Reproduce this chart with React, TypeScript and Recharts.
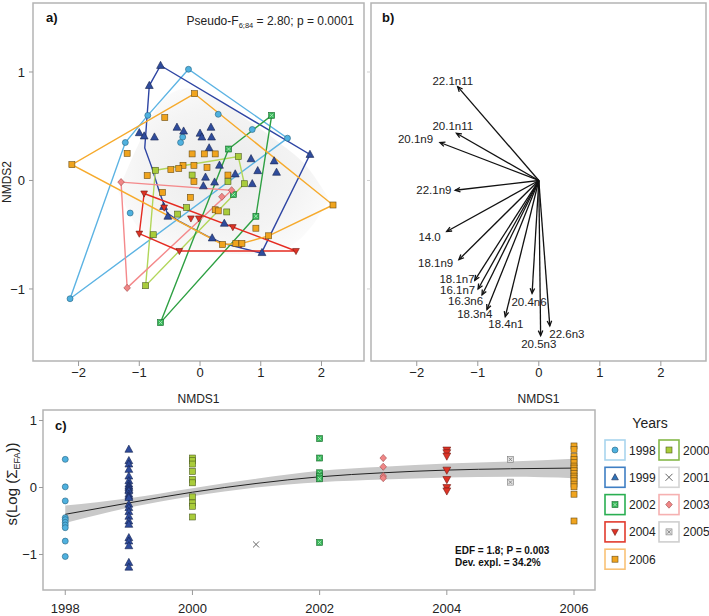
import {
  ComposedChart,
  Scatter,
  Area,
  Line,
  XAxis,
  YAxis,
  ReferenceArea,
  ReferenceLine,
} from 'recharts';

const FONT = '"Liberation Sans", Arial, Helvetica, sans-serif';
const FRAME = '#b4b4b4';
const TICK_LINE = '#9a9a9a';

// ---- panel a: NMDS scores per year [NMDS1, NMDS2]
const nmds1998 = [
  [-0.19, 1.025], [-0.86, 0.6], [0.3, 0.61], [-1.23, 0.35], [-0.285, 0.4],
  [-0.32, 0.35], [0.86, 0.47], [1.44, 0.39], [-1.15, -0.3], [-2.14, -1.09],
];
const nmds1999 = [
  [-0.65, 1.06], [-0.835, 0.875], [-1.0, 0.44], [-0.92, 0.41], [-0.75, 0.4],
  [-0.38, 0.49], [-0.27, 0.455], [0.0, 0.435], [0.03, 0.4], [0.18, 0.49],
  [0.19, 0.4], [0.15, 0.3], [1.81, 0.24], [1.22, 0.18], [1.26, 0.075],
  [0.95, 0.09], [0.84, 0.2], [0.58, 0.06], [0.32, 0.14], [0.09, 0.03],
  [0.24, -0.015], [0.055, -0.05], [0.86, -0.03], [-0.6, -0.24], [-0.53, -0.33],
  [0.4, -0.395], [0.2, -0.53], [1.02, -0.665],
];
const nmds2000 = [
  [-0.735, 0.094], [0.63, 0.22], [0.73, -0.03], [-0.13, 0.05], [-0.22, -0.25],
  [-0.37, -0.31], [0.44, -0.29], [-0.77, -0.5], [-0.895, -0.97], [0.46, -0.01],
];
const nmds2002 = [[1.18, 0.6], [0.47, 0.29], [0.55, -0.13], [0.92, -0.33], [-0.65, -1.31]];
const nmds2003 = [[-1.3, -0.015], [0.52, -0.09], [0.36, -0.15], [-1.2, -0.99]];
const nmds2004 = [
  [-0.92, -0.12], [-0.59, -0.25], [-0.15, -0.35], [-0.02, -0.35], [0.54, -0.43],
  [0.675, -0.59], [-1.0, -0.49], [-0.34, -0.65], [1.58, -0.65],
];
const nmds2006 = [
  [-0.09, 0.8], [-2.11, 0.146], [-0.58, 0.58], [-1.2, 0.25], [-0.13, 0.245],
  [0.07, 0.245], [0.25, 0.245], [0.115, 0.12], [-0.1, 0.14], [-0.28, 0.14],
  [-0.35, 0.11], [-0.48, 0.1], [-0.87, 0.045], [-0.1, -0.01], [0.46, 0.05],
  [-0.62, -0.11], [-0.16, -0.155], [0.25, -0.27], [0.3, -0.28], [0.92, -0.44],
  [1.13, -0.51], [2.19, -0.226], [0.37, -0.59], [0.59, -0.58], [0.69, -0.58],
];

// outlines drawn around each year
const hull1998 = [[-2.14, -1.09], [-1.23, 0.35], [-0.86, 0.6], [-0.19, 1.025], [1.44, 0.39]];
const hull1999 = [
  [-0.65, 1.06], [1.81, 0.24], [1.01, -0.67], [0.38, -0.58], [0.11, -0.51],
  [-0.33, -0.38], [-0.54, -0.3], [-0.66, -0.12], [-0.8, 0.13], [-0.91, 0.3], [-0.835, 0.875],
];
const hull2000 = [[-0.735, 0.094], [0.63, 0.22], [0.73, -0.03], [-0.895, -0.97]];
const hull2002 = [[0.47, 0.29], [1.18, 0.6], [0.92, -0.33], [-0.65, -1.31]];
const hull2003 = [[-1.3, -0.015], [0.52, -0.09], [-1.2, -0.99]];
const hull2004 = [[-0.92, -0.12], [1.58, -0.65], [-0.34, -0.65], [-1.0, -0.49]];
const hull2006 = [[-0.09, 0.8], [2.19, -0.226], [1.13, -0.51], [0.69, -0.58], [0.37, -0.59], [-2.11, 0.146]];

// grey background region
const shadeX = [-1.35, -1.0, -0.6, -0.2, 0.3, 0.8, 1.3, 1.8, 2.1];
const shadeLow = [-0.1, -0.45, -0.6, -0.65, -0.67, -0.68, -0.65, -0.45, -0.2];
const shadeHigh = [-0.1, 0.35, 0.75, 0.85, 0.75, 0.55, 0.35, 0.1, -0.15];

// ---- panel b: fatty acid vectors
const faNames = ['22.1n11', '20.1n11', '20.1n9', '22.1n9', '14.0', '18.1n9', '18.1n7', '16.1n7', '16.3n6', '18.3n4', '18.4n1', '20.4n6', '22.6n3', '20.5n3'];
const faX = [-1.33, -1.35, -1.62, -1.37, -1.51, -1.31, -1.05, -0.995, -0.93, -0.85, -0.55, -0.11, 0.18, 0.03];
const faY = [0.865, 0.435, 0.35, -0.09, -0.47, -0.73, -0.92, -1.0, -1.055, -1.19, -1.255, -1.04, -1.34, -1.43];
const faLabelX = [-1.41, -1.41, -2.02, -1.72, -1.79, -1.69, -1.34, -1.33, -1.2, -1.05, -0.54, -0.16, 0.46, 0.0];
const faLabelY = [0.917, 0.5, 0.38, -0.09, -0.52, -0.76, -0.91, -1.01, -1.11, -1.23, -1.325, -1.12, -1.415, -1.51];

// ---- panel c: GAM smooth and partial residuals
const gamYears = [1998, 1999, 2000, 2001, 2002, 2003, 2004, 2005, 2006];
const gamFit = [-0.4, -0.23, -0.07, 0.06, 0.16, 0.22, 0.26, 0.28, 0.29];
const gamLow = [-0.53, -0.3, -0.13, 0.0, 0.08, 0.12, 0.15, 0.16, 0.14];
const gamHigh = [-0.27, -0.16, -0.01, 0.13, 0.25, 0.31, 0.36, 0.39, 0.43];

const res1998 = [0.42, 0.01, -0.2, -0.45, -0.48, -0.52, -0.56, -0.6, -0.8, -1.03];
const res1999 = [0.57, 0.4, 0.35, 0.27, 0.17, 0.1, 0.05, 0.02, 0.0, -0.03, -0.05, -0.1, -0.13, -0.15, -0.25, -0.3, -0.36, -0.43, -0.5, -0.55, -0.75, -0.8, -0.87, -1.12, -1.19];
const res2000 = [0.44, 0.4, 0.35, 0.24, 0.12, 0.07, -0.14, -0.23, -0.28, -0.44];
const res2001 = [-0.85];
const res2002 = [0.73, 0.44, 0.22, 0.17, 0.13, -0.82];
const res2003 = [0.44, 0.31, 0.17, 0.14];
const res2004 = [0.56, 0.52, 0.47, 0.26, 0.12, 0.0, -0.05];
const res2005 = [0.42, 0.08];
const res2006 = [0.62, 0.57, 0.46, 0.42, 0.37, 0.32, 0.29, 0.25, 0.21, 0.17, 0.14, 0.1, 0.05, 0.01, -0.1, -0.5];

const legendCol1 = [1998, 1999, 2002, 2004, 2006];
const legendCol2 = [2000, 2001, 2003, 2005];

const nmdsTicks = [-2, -1, 0, 1, 2];
const nmds2Ticks = [-1, 0, 1];
const yearTicks = [1998, 2000, 2002, 2004, 2006];
const smoothTicks = [-1, 0, 1];

type Kind = 'circle' | 'up' | 'down' | 'square' | 'xsquare' | 'diamond' | 'cross';

const yearStyle: Record<number, { kind: Kind; fill: string; edge: string; hull: string; box: string; inner?: string }> = {
  1998: { kind: 'circle', fill: '#4fb1df', edge: '#25617f', hull: '#5cb3e3', box: '#a9d5ee' },
  1999: { kind: 'up', fill: '#2f4c9c', edge: '#16234f', hull: '#2e45a3', box: '#3f7fc4' },
  2000: { kind: 'square', fill: '#a9cc3a', edge: '#4d5d20', hull: '#b2d65a', box: '#86b84a' },
  2001: { kind: 'cross', fill: '#555555', edge: '#555555', hull: '#999999', box: '#d4d4d4' },
  2002: { kind: 'xsquare', fill: '#34b556', edge: '#1d6b30', hull: '#2ea043', box: '#2aae52', inner: '#b9ecc4' },
  2003: { kind: 'diamond', fill: '#f08686', edge: '#9c4a4a', hull: '#f4898b', box: '#f6b1b1' },
  2004: { kind: 'down', fill: '#dd3326', edge: '#6e1710', hull: '#e52b21', box: '#e23b2e' },
  2005: { kind: 'xsquare', fill: '#e2e2e2', edge: '#7a7a7a', hull: '#aaaaaa', box: '#cfcfcf', inner: '#777777' },
  2006: { kind: 'square', fill: '#f0a41e', edge: '#6a4d14', hull: '#f6aa2c', box: '#f9c277' },
};

const toPts = (arr: number[][]) => arr.map(([x, y]) => ({ x, y }));
const closed = (arr: number[][]) => toPts([...arr, arr[0]]);
const column = (year: number, vals: number[]) => vals.map((y) => ({ x: year, y }));
const fmtTick = (v: number) => (v < 0 ? `\u2212${Math.abs(v)}` : `${v}`);

const nmdsPoints: [number, number[][]][] = [
  [1998, nmds1998], [1999, nmds1999], [2000, nmds2000], [2002, nmds2002],
  [2003, nmds2003], [2004, nmds2004], [2006, nmds2006],
];
const nmdsHulls: [number, number[][]][] = [
  [1998, hull1998], [1999, hull1999], [2000, hull2000], [2002, hull2002],
  [2003, hull2003], [2004, hull2004], [2006, hull2006],
];
const residuals: [number, number[]][] = [
  [1998, res1998], [1999, res1999], [2000, res2000], [2001, res2001], [2002, res2002],
  [2003, res2003], [2004, res2004], [2005, res2005], [2006, res2006],
];

const shadeTable = shadeX.map((x, i) => ({ x, band: [shadeLow[i], shadeHigh[i]] }));
const gamTable = gamYears.map((x, i) => ({ x, fit: gamFit[i], band: [gamLow[i], gamHigh[i]] }));
const faTips = faNames.map((name, i) => ({ name, x: faX[i], y: faY[i] }));
const faLabels = faNames.map((name, i) => ({ name, x: faLabelX[i], y: faLabelY[i] }));

const AX_A = [-2.75, 2.7];
const AX_B = [-2.75, 2.74];
const AY = [-1.664, 1.636];
const CX = [1997.65, 2006.33];
const CY = [-1.53, 1.157];

const tickStyle = { fill: '#222', fontSize: 13, fontFamily: FONT };

function Marker({ kind, cx, cy, s, fill, edge, inner }: any) {
  if (cx == null || cy == null) return <g />;
  const h = s / 2;
  switch (kind) {
    case 'circle':
      return <circle cx={cx} cy={cy} r={h} fill={fill} stroke={edge} strokeWidth={0.6} />;
    case 'up':
      return (
        <polygon
          points={`${cx},${cy - s * 0.6} ${cx + s * 0.56},${cy + s * 0.42} ${cx - s * 0.56},${cy + s * 0.42}`}
          fill={fill} stroke={edge} strokeWidth={0.6}
        />
      );
    case 'down':
      return (
        <polygon
          points={`${cx},${cy + s * 0.6} ${cx + s * 0.56},${cy - s * 0.42} ${cx - s * 0.56},${cy - s * 0.42}`}
          fill={fill} stroke={edge} strokeWidth={0.6}
        />
      );
    case 'diamond':
      return (
        <polygon
          points={`${cx},${cy - s * 0.6} ${cx + s * 0.55},${cy} ${cx},${cy + s * 0.6} ${cx - s * 0.55},${cy}`}
          fill={fill} stroke={edge} strokeWidth={0.6}
        />
      );
    case 'xsquare':
      return (
        <g>
          <rect x={cx - h} y={cy - h} width={s} height={s} fill={fill} stroke={edge} strokeWidth={0.6} />
          <path d={`M${cx - h + 1.3},${cy - h + 1.3}L${cx + h - 1.3},${cy + h - 1.3}M${cx + h - 1.3},${cy - h + 1.3}L${cx - h + 1.3},${cy + h - 1.3}`} stroke={inner} strokeWidth={0.8} />
        </g>
      );
    case 'cross':
      return (
        <path d={`M${cx - h},${cy - h}L${cx + h},${cy + h}M${cx + h},${cy - h}L${cx - h},${cy + h}`} stroke={fill} strokeWidth={0.9} />
      );
    default:
      return <rect x={cx - h} y={cy - h} width={s} height={s} fill={fill} stroke={edge} strokeWidth={0.6} />;
  }
}

const shapeFor = (year: number, s: number) => (p: any) => {
  const st = yearStyle[year];
  return <Marker kind={st.kind} cx={p.cx} cy={p.cy} s={s} fill={st.fill} edge={st.edge} inner={st.inner} />;
};

function Arrow(p: any) {
  const { x1, y1, x2, y2 } = p;
  if ([x1, y1, x2, y2].some((v) => v == null)) return <g />;
  const ang = Math.atan2(y2 - y1, x2 - x1);
  const L = 5.5;
  const w = 0.42;
  const ax = x2 - L * Math.cos(ang - w);
  const ay = y2 - L * Math.sin(ang - w);
  const bx = x2 - L * Math.cos(ang + w);
  const by = y2 - L * Math.sin(ang + w);
  return (
    <g>
      <line x1={x1} y1={y1} x2={x2} y2={y2} stroke="#111" strokeWidth={1.3} />
      <polyline points={`${ax},${ay} ${x2},${y2} ${bx},${by}`} fill="none" stroke="#111" strokeWidth={1.3} />
    </g>
  );
}

function FaLabel(p: any) {
  if (p.cx == null) return <g />;
  return (
    <text x={p.cx} y={p.cy} textAnchor="middle" dominantBaseline="central" fontSize={11.5} fontFamily={FONT} fill="#222">
      {p.payload?.name ?? p.name}
    </text>
  );
}

function PanelA() {
  return (
    <ComposedChart width={368} height={405} data={shadeTable} margin={{ top: 3, right: 4, bottom: 0, left: 0 }}>
      <XAxis
        type="number" dataKey="x" domain={AX_A} ticks={nmdsTicks} interval={0} allowDataOverflow
        axisLine={false} tickLine={{ stroke: TICK_LINE }} tickSize={5} tickMargin={2}
        tick={tickStyle} tickFormatter={fmtTick} height={44}
        label={{ value: 'NMDS1', position: 'insideBottom', offset: 2, fill: '#222', fontSize: 12, fontFamily: FONT }}
      />
      <YAxis
        type="number" domain={AY} ticks={nmds2Ticks} interval={0} allowDataOverflow width={33}
        axisLine={false} tickLine={{ stroke: TICK_LINE }} tickSize={4} tickMargin={4}
        tick={tickStyle} tickFormatter={fmtTick}
      />
      <Area dataKey="band" type="monotone" fill="url(#nmdsShade)" fillOpacity={1} stroke="none" isAnimationActive={false} />
      {nmdsHulls.map(([year, hull]) => (
        <Scatter
          key={`h${year}`} data={closed(hull)} dataKey="y" isAnimationActive={false}
          line={{ stroke: yearStyle[year].hull, strokeWidth: 1.4 }} shape={() => <g />}
        />
      ))}
      {nmdsPoints.map(([year, pts]) => (
        <Scatter
          key={`p${year}`} data={toPts(pts)} dataKey="y" isAnimationActive={false}
          shape={shapeFor(year, year === 1999 ? 7 : 6)}
        />
      ))}
      <ReferenceArea x1={AX_A[0]} x2={AX_A[1]} y1={AY[0]} y2={AY[1]} fill="none" stroke={FRAME} strokeWidth={1.5} />
    </ComposedChart>
  );
}

function PanelB() {
  return (
    <ComposedChart width={371} height={405} margin={{ top: 3, right: 3, bottom: 0, left: 0 }}>
      <XAxis
        type="number" dataKey="x" domain={AX_B} ticks={nmdsTicks} interval={0} allowDataOverflow
        axisLine={false} tickLine={{ stroke: TICK_LINE }} tickSize={5} tickMargin={2}
        tick={tickStyle} tickFormatter={fmtTick} height={44}
        label={{ value: 'NMDS1', position: 'insideBottom', offset: 2, fill: '#222', fontSize: 12, fontFamily: FONT }}
      />
      <YAxis
        type="number" domain={AY} ticks={nmds2Ticks} interval={0} allowDataOverflow width={33}
        axisLine={false} tickLine={{ stroke: '#d0d0d0' }} tickSize={4} tickMargin={4}
        tick={tickStyle} tickFormatter={() => ''}
      />
      {faTips.map((t) => (
        <ReferenceLine key={t.name} segment={[{ x: 0, y: 0 }, { x: t.x, y: t.y }]} shape={Arrow} />
      ))}
      <Scatter data={faLabels} dataKey="y" isAnimationActive={false} shape={FaLabel} />
      <ReferenceArea x1={AX_B[0]} x2={AX_B[1]} y1={AY[0]} y2={AY[1]} fill="none" stroke={FRAME} strokeWidth={1.5} />
    </ComposedChart>
  );
}

function PanelC() {
  return (
    <ComposedChart width={600} height={211} data={gamTable} margin={{ top: 5, right: 5, bottom: 0, left: 0 }}>
      <XAxis
        type="number" dataKey="x" domain={CX} ticks={yearTicks} interval={0} allowDataOverflow
        axisLine={false} tickLine={{ stroke: TICK_LINE }} tickSize={5} tickMargin={9}
        tick={tickStyle} height={26}
      />
      <YAxis
        type="number" domain={CY} ticks={smoothTicks} interval={0} allowDataOverflow width={43}
        axisLine={false} tickLine={{ stroke: TICK_LINE }} tickSize={4} tickMargin={2}
        tick={tickStyle} tickFormatter={fmtTick}
      />
      <Area dataKey="band" type="monotone" fill="#c9c9c9" fillOpacity={1} stroke="none" isAnimationActive={false} />
      <Line dataKey="fit" type="monotone" stroke="#222" strokeWidth={1} dot={false} isAnimationActive={false} />
      {residuals.map(([year, vals]) => (
        <Scatter
          key={`r${year}`} data={column(year, vals)} dataKey="y" isAnimationActive={false}
          shape={shapeFor(year, year === 1999 || year === 2004 ? 7 : 6)}
        />
      ))}
      <ReferenceArea x1={CX[0]} x2={CX[1]} y1={CY[0]} y2={CY[1]} fill="none" stroke={FRAME} strokeWidth={1.5} />
    </ComposedChart>
  );
}

function Overlay() {
  const rowTop = (i: number) => 440 + i * 27.3;
  const legendItem = (year: number, left: number, i: number) => {
    const st = yearStyle[year];
    const top = rowTop(i);
    return (
      <g key={year}>
        <rect x={left} y={top} width={20} height={20} fill="#fff" stroke={st.box} strokeWidth={1.6} />
        <Marker
          kind={st.kind} cx={left + 10} cy={top + 10} s={st.kind === 'cross' ? 7 : 6}
          fill={year === 1999 ? '#2f74b9' : st.fill} edge={st.edge}
          inner={year === 2006 ? '#5a4410' : st.inner}
        />
        <text x={left + 24} y={top + 14.5} fontSize={12} fill="#222">{year}</text>
      </g>
    );
  };
  return (
    <svg width={709} height={616} style={{ position: 'absolute', left: 0, top: 0, pointerEvents: 'none' }} fontFamily={FONT}>
      <defs>
        <radialGradient id="nmdsShade" cx="50%" cy="50%" r="55%">
          <stop offset="0%" stopColor="#ebebeb" />
          <stop offset="70%" stopColor="#f4f4f4" />
          <stop offset="100%" stopColor="#fbfbfb" />
        </radialGradient>
      </defs>
      <text x={46} y={22} fontSize={13} fontWeight="bold" fill="#111">a)</text>
      <text x={382} y={22} fontSize={13} fontWeight="bold" fill="#111">b)</text>
      <text x={55} y={430} fontSize={13} fontWeight="bold" fill="#111">c)</text>
      <text x={354} y={25} fontSize={12} textAnchor="end" fill="#222">
        <tspan>Pseudo-F</tspan>
        <tspan fontSize={7.5} dy={3}>6;84</tspan>
        <tspan dy={-3}> = 2.80; p = 0.0001</tspan>
      </text>
      <text x={11} y={182} fontSize={12} textAnchor="middle" fill="#222" transform="rotate(-90 11 182)">NMDS2</text>
      <text x={17} y={484} fontSize={15} textAnchor="middle" fill="#222" transform="rotate(-90 17 484)">
        <tspan>s(Log (Σ</tspan>
        <tspan fontSize={9} dy={3}>EFA</tspan>
        <tspan dy={-3}>))</tspan>
      </text>
      <text x={455} y={554} fontSize={10} fontWeight="bold" fill="#111">EDF = 1.8; P = 0.003</text>
      <text x={455} y={566} fontSize={10} fontWeight="bold" fill="#111">Dev. expl. = 34.2%</text>
      <text x={650} y={428} fontSize={14} textAnchor="middle" fill="#222">Years</text>
      {legendCol1.map((y, i) => legendItem(y, 605, i))}
      {legendCol2.map((y, i) => legendItem(y, 659, i))}
    </svg>
  );
}

export default function App() {
  return (
    <div style={{ position: 'absolute', left: 0, top: 0, width: 709, height: 616, background: '#fff', fontFamily: FONT }}>
      <div style={{ position: 'absolute', left: 0, top: 0 }}>
        <PanelA />
      </div>
      <div style={{ position: 'absolute', left: 338, top: 0 }}>
        <PanelB />
      </div>
      <div style={{ position: 'absolute', left: 0, top: 405 }}>
        <PanelC />
      </div>
      <Overlay />
    </div>
  );
}
